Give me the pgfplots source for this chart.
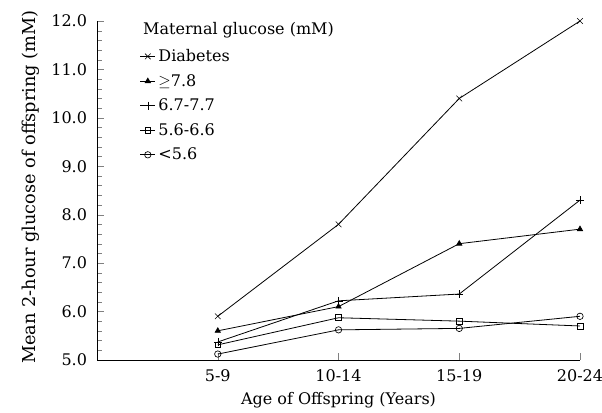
\documentclass[border=0pt]{standalone}
\usepackage{pgfplots}
\pgfplotsset{compat=1.18}
\usepackage{fontspec}
\setmainfont{DejaVu Serif}
\newcommand{\fs}{\fontsize{12}{14}\selectfont}
\begin{document}
\begin{tikzpicture}
\begin{axis}[
  scale only axis,
  width=362pt, height=254pt,
  xmin=0, xmax=4, ymin=5, ymax=12,
  axis x line*=bottom, axis y line*=left,
  xtick={1,2,3,4}, xticklabels={5-9,10-14,15-19,20-24},
  ytick={5,6,...,12}, minor y tick num=4,
  tick align=inside,
  major tick length=5pt, minor tick length=4pt,
  /pgf/number format/assume math mode=true,
  /pgf/number format/.cd, fixed, fixed zerofill, precision=1, /pgfplots/.cd,
  tick label style={font=\fs},
  yticklabel style={xshift=-4pt},
  xticklabel style={yshift=-4pt},
  xlabel={Age of Offspring (Years)},
  ylabel={Mean 2-hour glucose of offspring (mM)},
  xlabel style={font=\fs, at={(axis description cs:0.5,0)}, anchor=center, yshift=-30pt},
  ylabel style={font=\fontsize{13.3}{15}\selectfont, at={(axis description cs:0,0.51)}, anchor=center, yshift=50pt},
  every axis plot/.append style={black, line width=0.6pt},
  legend style={at={(rel axis cs:0.088,0.925)}, anchor=north west, draw=none, fill=none,
    font=\fs, row sep=4pt, inner sep=0pt},
  legend cell align=left,
  legend image code/.code={\draw[mark repeat=2,mark phase=2,#1] plot coordinates {(0cm,0cm)(0.2cm,0cm)(0.4cm,0cm)};},
  clip=false,
]
\addplot[mark=x, mark size=3pt, mark options={line width=0.4pt}] coordinates {(1,5.9)(2,7.8)(3,10.4)(4,12.0)};
\addlegendentry{Diabetes}
\addplot[mark=triangle*, mark size=2.2pt] coordinates {(1,5.6)(2,6.1)(3,7.4)(4,7.7)};
\addlegendentry{$\geq$7.8}
\addplot[mark=+, mark size=3pt, mark options={line width=0.4pt}] coordinates {(1,5.37)(2,6.22)(3,6.36)(4,8.3)};
\addlegendentry{6.7-7.7}
\addplot[mark=square, mark size=2.2pt, mark options={line width=0.5pt}] coordinates {(1,5.31)(2,5.87)(3,5.8)(4,5.7)};
\addlegendentry{5.6-6.6}
\addplot[mark=o, mark size=2.4pt, mark options={line width=0.5pt}] coordinates {(1,5.12)(2,5.62)(3,5.65)(4,5.9)};
\addlegendentry{<5.6}
\node[anchor=north west, font=\fs, inner sep=0pt] at (rel axis cs:0.095,0.997) {Maternal glucose (mM)};
\end{axis}
\pgfresetboundingbox
\useasboundingbox ([xshift=-72.75pt,yshift=-39.75pt]current axis.south west) rectangle ([xshift=16.5pt,yshift=15.75pt]current axis.north east);
\end{tikzpicture}
\end{document}
